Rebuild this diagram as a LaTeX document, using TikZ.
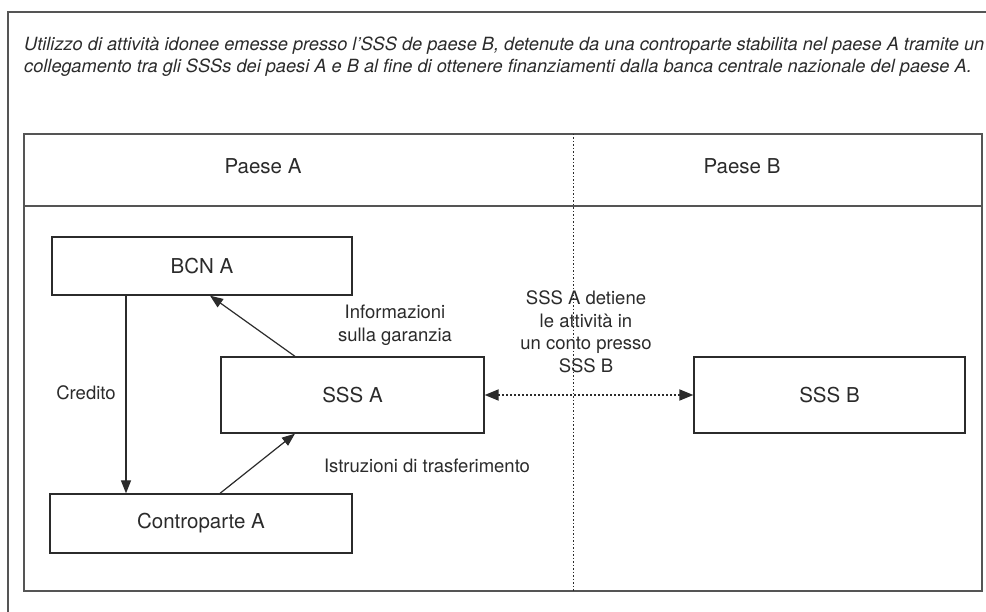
\documentclass[tikz,border=0pt]{standalone}
\usepackage{fontspec}
\setmainfont{TeX Gyre Heros}
\usetikzlibrary{arrows.meta,calc}
\definecolor{ink}{HTML}{2B2B2B}
\definecolor{frame}{HTML}{555555}
\begin{document}
\begin{tikzpicture}[x=1pt,y=-1pt,
  box/.style={draw=ink,line width=1.3pt,inner sep=0pt,font=\fontsize{20.5}{24}\selectfont,text=ink},
  lab/.style={inner sep=0pt,align=center,font=\fontsize{18.5}{22.5}\selectfont,text=ink},
  toptext/.style={inner sep=0pt,anchor=base west,font=\fontsize{18.2}{22}\selectfont\itshape,text=ink},
  arr/.style={draw=ink,line width=1.2pt,-{Triangle[length=13pt,width=10pt]}},
  darr/.style={draw=ink,line width=1.8pt,dash pattern=on 2pt off 2pt,{Triangle[length=14pt,width=11pt]}-{Triangle[length=14pt,width=11pt]}},
  vdot/.style={draw=ink,line width=0.9pt,dash pattern=on 1.5pt off 2pt}
]
\useasboundingbox (0,0) rectangle (986,612);
\fill[white] (0,0) rectangle (986,612);
% outer frame
\draw[frame,line width=1.3pt] (8,612) -- (8,12) -- (986,12);
% title text
\node[toptext] (t1) at (24,51) {Utilizzo di attività idonee emesse presso l’SSS de paese B, detenute da una controparte stabilita nel paese A tramite un};
\node[toptext] (t2) at (24,73) {collegamento tra gli SSSs dei paesi A e B al fine di ottenere finanziamenti dalla banca centrale nazionale del paese A.};
% inner frame
\draw[frame,line width=1.5pt] (24,134) rectangle (982,591);
\draw[frame,line width=2pt] (24,206) -- (982,206);
\draw[vdot] (573,134) -- (573,591);
\node[lab,font=\fontsize{20.5}{24}\selectfont] (pa) at (263,166) {Paese A};
\node[lab,font=\fontsize{20.5}{24}\selectfont] (pb) at (742,166) {Paese B};
% boxes
\node[box,minimum width=300pt,minimum height=58pt] (bcn) at (202,266) {BCN A};
\node[box,minimum width=263pt,minimum height=76pt] (sssa) at (352.5,395) {SSS A};
\node[box,minimum width=271pt,minimum height=76pt] (sssb) at (829.5,395) {SSS B};
\node[box,minimum width=302pt,minimum height=59pt] (cp) at (201,523.5) {Controparte A};
% helper x positions
\coordinate (xc) at (126,0);
\coordinate (xi) at (295,0);
\coordinate (xb) at (210,0);
\coordinate (xt) at (220,0);
% arrows
\draw[arr] (bcn.south -| xc) -- (cp.north -| xc);
\draw[arr] (sssa.north -| xi) -- (bcn.south -| xb);
\draw[arr] (cp.north -| xt) -- (sssa.south -| xi);
\draw[darr] (sssa.east) -- (sssb.west);
% labels
\node[lab] (lcred) at (86,393) {Credito};
\node[lab] (linfo) at (395,325) {Informazioni\\sulla garanzia};
\node[lab] (listr) at (427,466) {Istruzioni di trasferimento};
\node[lab] (ldet) at (586,332) {SSS A detiene\\le attività in\\un conto presso\\SSS B};
\end{tikzpicture}
\end{document}
